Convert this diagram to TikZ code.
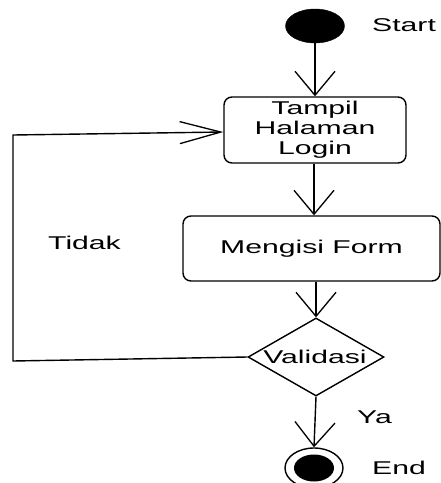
\documentclass[tikz,border=0pt]{standalone}
\usepackage{fontspec}
\setmainfont{Liberation Sans}[FakeStretch=1.63]
\usetikzlibrary{arrows.meta,shapes.geometric}
\begin{document}
\begin{tikzpicture}[x=1pt,y=-1pt,
  every node/.style={font=\fontsize{18.5}{20}\selectfont},
  box/.style={draw,line width=1.4pt,rounded corners=8pt,inner sep=0pt},
  conn/.style={line width=1.4pt,-{Straight Barb[length=24pt,width=40pt,line width=1.3pt]}},
  connh/.style={line width=1.4pt,-{Straight Barb[length=41pt,width=22pt,line width=1.3pt]}},
  lbl/.style={anchor=west,inner sep=0pt}]
\useasboundingbox (0,0) rectangle (441,483);
\node[draw,fill=black,ellipse,minimum width=59pt,minimum height=34pt,inner sep=0pt] (start) at (315,26) {};
\node[lbl] (startl) at (372,25) {Start};
\node[box,minimum width=182pt,minimum height=66pt,align=center] (login) at (315,130) {Tampil\\Halaman\\Login};
\node[box,minimum width=257pt,minimum height=65pt] (form) at (311.5,248.5) {Mengisi Form};
\node[draw,line width=1.4pt,diamond,aspect=1.74,minimum width=136pt,minimum height=78pt,inner sep=0pt] (val) at (316,357) {};
\node[inner sep=0pt] (vall) at (315,357) {Validasi};
\node[draw,line width=1.4pt,ellipse,minimum width=58pt,minimum height=40pt,inner sep=0pt] (end) at (314,468) {};
\node[fill=black,ellipse,minimum width=40pt,minimum height=27pt,inner sep=0pt] (endin) at (314,468) {};
\node[lbl] (endl) at (372,468) {End};
\node[lbl] (tidak) at (48,243) {Tidak};
\node[lbl] (ya) at (357,417) {Ya};
\coordinate (c1) at (13,361);
\coordinate (c2) at (13,135);
\draw[conn] (start) -- (login.north -| start);
\draw[conn] (login.south -| 314,0) -- (form.north -| 314,0);
\draw[conn] (form.south -| 316,0) -- (val.north);
\draw[conn] (val.south) -- (end.north);
\draw[connh] (val.west) -- (c1) -- (c2) -- (login.west |- 0,132);
\end{tikzpicture}
\end{document}
